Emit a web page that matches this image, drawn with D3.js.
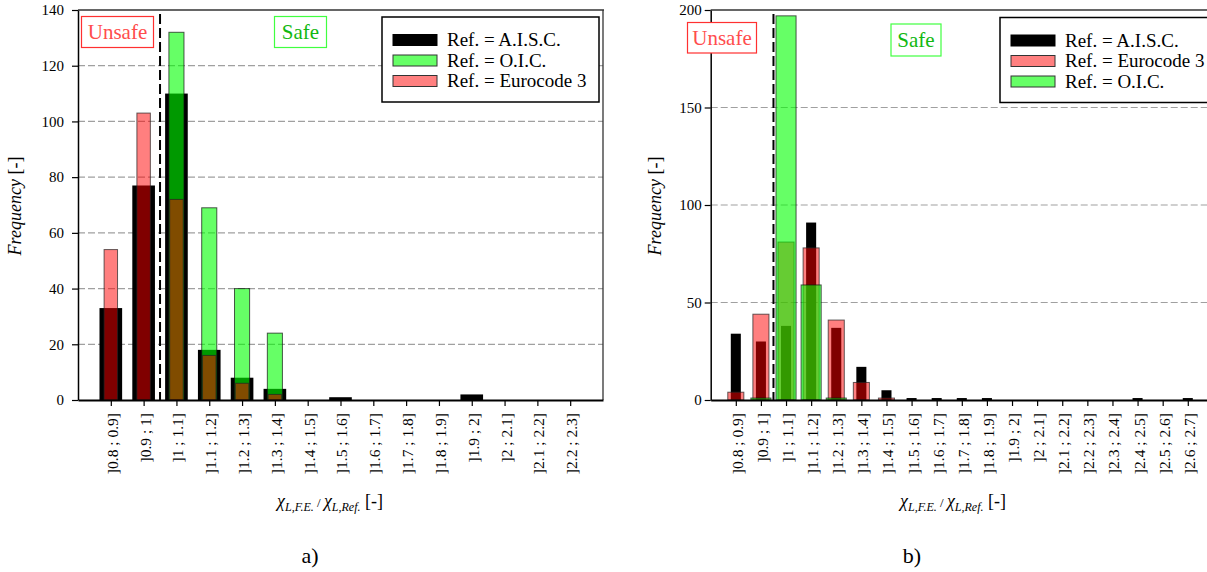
<!DOCTYPE html>
<html>
<head>
<meta charset="utf-8">
<script src="https://cdn.jsdelivr.net/npm/d3@7/dist/d3.min.js"></script>
<style>
  html, body { margin: 0; padding: 0; background: #fff; }
  svg { display: block; }
</style>
</head>
<body>
<script>
// ---- Panel a) : bins and frequencies ----
const binsA = ["]0.8 ; 0.9]", "]0.9 ; 1]", "]1 ; 1.1]", "]1.1 ; 1.2]", "]1.2 ; 1.3]",
  "]1.3 ; 1.4]", "]1.4 ; 1.5]", "]1.5 ; 1.6]", "]1.6 ; 1.7]", "]1.7 ; 1.8]",
  "]1.8 ; 1.9]", "]1.9 ; 2]", "]2 ; 2.1]", "]2.1 ; 2.2]", "]2.2 ; 2.3]"];
const aiscA = [33, 77, 110, 18, 8, 4, 0, 1, 0, 0, 0, 2, 0, 0, 0];
const oicA  = [0, 0, 132, 69, 40, 24, 0, 0, 0, 0, 0, 0, 0, 0, 0];
const ec3A  = [54, 103, 72, 16, 6, 2, 0, 0, 0, 0, 0, 0, 0, 0, 0];
const yTicksA = [0, 20, 40, 60, 80, 100, 120, 140];

// ---- Panel b) : bins and frequencies ----
const binsB = ["]0.8 ; 0.9]", "]0.9 ; 1]", "]1 ; 1.1]", "]1.1 ; 1.2]", "]1.2 ; 1.3]",
  "]1.3 ; 1.4]", "]1.4 ; 1.5]", "]1.5 ; 1.6]", "]1.6 ; 1.7]", "]1.7 ; 1.8]",
  "]1.8 ; 1.9]", "]1.9 ; 2]", "]2 ; 2.1]", "]2.1 ; 2.2]", "]2.2 ; 2.3]",
  "]2.3 ; 2.4]", "]2.4 ; 2.5]", "]2.5 ; 2.6]", "]2.6 ; 2.7]"];
const aiscB = [34, 30, 38, 91, 37, 17, 5, 1, 1, 1, 1, 0, 0, 0, 0, 0, 1, 0, 1];
const ec3B  = [4, 44, 81, 78, 41, 9, 1, 0, 0, 0, 0, 0, 0, 0, 0, 0, 0, 0, 0];
const oicB  = [0, 1, 197, 59, 1, 0, 0, 0, 0, 0, 0, 0, 0, 0, 0, 0, 0, 0, 0];
const yTicksB = [0, 50, 100, 150, 200];

const W = 1207, H = 572;
const FONT = "'Liberation Serif'";

const svg = d3.select("body").append("svg")
  .attr("width", W).attr("height", H)
  .attr("viewBox", `0 0 ${W} ${H}`);
svg.append("rect").attr("width", W).attr("height", H).attr("fill", "#fff");

// every text element gets the serif face inline
function txt(sel) {
  return sel.append("text").style("font-family", FONT).attr("fill", "#000");
}

// series styling
const STYLE = {
  aisc: { label: "Ref. = A.I.S.C.", fill: "#000", fillOpacity: 1, stroke: "none", swatch: "#000" },
  oic:  { label: "Ref. = O.I.C.", fill: "#00ff00", fillOpacity: 0.6, stroke: "#111", swatch: "#66ff66" },
  ec3:  { label: "Ref. = Eurocode 3", fill: "#ff0000", fillOpacity: 0.5, stroke: "#222", swatch: "#ff8080" }
};

function drawPanel(p) {
  const g = svg.append("g");
  const x = d3.scalePoint().domain(p.bins).range([p.left, p.right]).padding(1);
  const y = d3.scaleLinear().domain([0, p.yMax]).range([p.bottom, p.top]);
  const step = x.step();

  // horizontal dashed grid
  g.append("g").selectAll("line")
    .data(p.yTicks.filter(t => t > 0 && t < p.yMax))
    .join("line")
    .attr("x1", p.left).attr("x2", Math.min(p.right, W + 10))
    .attr("y1", d => y(d)).attr("y2", d => y(d))
    .attr("stroke", "#a0a0a0").attr("stroke-width", 1.2)
    .attr("stroke-dasharray", "7,3");

  // bars, drawn in legend order
  p.series.forEach(s => {
    const st = STYLE[s.key];
    const w = step * s.widthFrac;
    g.append("g").selectAll("rect")
      .data(s.values.map((v, i) => ({ v, bin: p.bins[i] })).filter(d => d.v > 0))
      .join("rect")
      .attr("x", d => x(d.bin) - w / 2)
      .attr("width", w)
      .attr("y", d => y(d.v))
      .attr("height", d => y(0) - y(d.v))
      .attr("fill", st.fill)
      .attr("fill-opacity", st.fillOpacity)
      .attr("stroke", st.stroke)
      .attr("stroke-opacity", 0.7)
      .attr("stroke-width", 1);
  });

  // plot frame (top and right)
  g.append("line").attr("x1", p.left).attr("x2", p.right + 1).attr("y1", p.top).attr("y2", p.top)
    .attr("stroke", "#333").attr("stroke-width", 1.3);
  g.append("line").attr("x1", p.right).attr("x2", p.right).attr("y1", p.top).attr("y2", p.bottom)
    .attr("stroke", "#333").attr("stroke-width", 1.3);

  // boundary between unsafe and safe bins
  const xb = (x(p.bins[1]) + x(p.bins[2])) / 2;
  g.append("line").attr("x1", xb).attr("x2", xb).attr("y1", p.top + 4).attr("y2", p.bottom)
    .attr("stroke", "#000").attr("stroke-width", 2).attr("stroke-dasharray", "10,4");

  // y axis
  const ya = d3.axisLeft(y).tickValues(p.yTicks).tickSize(6).tickPadding(p.yPad).tickSizeOuter(0);
  const yg = g.append("g").attr("transform", `translate(${p.left},0)`).call(ya);
  yg.attr("font-family", null);
  yg.select(".domain").attr("stroke", "#000").attr("stroke-width", 1.5);
  yg.selectAll(".tick line").attr("stroke", "#000").attr("stroke-width", 1.2);
  yg.selectAll(".tick text").style("font-family", FONT).attr("font-size", 15).attr("fill", "#000");

  // x axis
  const xa = d3.axisBottom(x).tickSize(6).tickSizeOuter(0).tickFormat("");
  const xg = g.append("g").attr("transform", `translate(0,${p.bottom})`).call(xa);
  xg.select(".domain").attr("stroke", "#000").attr("stroke-width", 2);
  xg.selectAll(".tick line").attr("stroke", "#000").attr("stroke-width", 1.2);
  g.append("g").selectAll("text").data(p.bins).join("text")
    .style("font-family", FONT)
    .attr("transform", d => `translate(${x(d)},${p.bottom + 13}) rotate(-90)`)
    .attr("text-anchor", "end")
    .attr("dy", "0.45em")
    .attr("font-size", 15.5)
    .text(d => d);

  // y title
  const yt = txt(g)
    .attr("transform", `translate(${p.yTitleX},${(p.top + p.bottom) / 2 + 1}) rotate(-90)`)
    .attr("text-anchor", "middle").attr("font-size", 18);
  yt.append("tspan").attr("font-style", "italic").text("Frequency");
  yt.append("tspan").text(" [-]");

  // x title
  const xt = txt(g).attr("x", p.xTitleX).attr("y", 507)
    .attr("text-anchor", "middle").attr("font-size", 18);
  xt.append("tspan").attr("font-style", "italic").text("\u03C7");
  xt.append("tspan").attr("font-style", "italic").attr("font-size", 12).attr("dy", 4).text("L,F.E.");
  xt.append("tspan").attr("font-size", 13).attr("dy", -4).text(" / ");
  xt.append("tspan").attr("font-style", "italic").text("\u03C7");
  xt.append("tspan").attr("font-style", "italic").attr("font-size", 12).attr("dy", 4).text("L,Ref.");
  xt.append("tspan").attr("dy", -4).text(" [-]");

  // panel letter
  txt(g).attr("x", p.letterX).attr("y", 563).attr("text-anchor", "middle")
    .attr("font-size", 22).text(p.letter);

  // Unsafe / Safe tags
  function tag(bx, by, bw, bh, label, stroke, color) {
    g.append("rect").attr("x", bx).attr("y", by).attr("width", bw).attr("height", bh)
      .attr("fill", "#fff").attr("stroke", stroke).attr("stroke-width", 1.2);
    txt(g).attr("x", bx + bw / 2).attr("y", by + bh / 2).attr("dy", "0.35em")
      .attr("text-anchor", "middle").attr("font-size", 21).attr("fill", color).text(label);
  }
  tag(p.unsafe[0], p.unsafe[1], p.unsafe[2], p.unsafe[3], "Unsafe", "#ff3030", "#ff4d4d");
  tag(p.safe[0], p.safe[1], p.safe[2], p.safe[3], "Safe", "#40ff40", "#12b812");

  // legend
  const lg = g.append("g");
  lg.append("rect").attr("x", p.legend[0]).attr("y", p.legend[1])
    .attr("width", p.legend[2]).attr("height", p.legend[3])
    .attr("fill", "#fff").attr("stroke", "#000").attr("stroke-width", 1.5);
  p.series.forEach((s, i) => {
    const st = STYLE[s.key];
    const cy = p.legend[1] + 23 + i * 20.5;
    lg.append("rect").attr("x", p.legend[0] + 11).attr("y", cy - 5.5)
      .attr("width", 44).attr("height", 11)
      .attr("fill", st.swatch)
      .attr("stroke", s.key === "aisc" ? "#000" : "#333").attr("stroke-width", 1);
    txt(lg).attr("x", p.legend[0] + 65).attr("y", cy).attr("dy", "0.33em")
      .attr("font-size", 19).text(st.label);
  });
}

drawPanel({
  bins: binsA, yMax: 140, yTicks: yTicksA,
  left: 78, right: 603, top: 10, bottom: 400, yPad: 8,
  series: [
    { key: "aisc", values: aiscA, widthFrac: 0.69 },
    { key: "oic", values: oicA, widthFrac: 0.46 },
    { key: "ec3", values: ec3A, widthFrac: 0.41 }
  ],
  yTitleX: 21, xTitleX: 330, letter: "a)", letterX: 310,
  unsafe: [81.5, 16.5, 72, 31], safe: [274.5, 16.5, 52, 31],
  legend: [382, 17, 217, 85]
});

drawPanel({
  bins: binsB, yMax: 200, yTicks: yTicksB,
  left: 710.7, right: 1212.9, top: 10, bottom: 400, yPad: 3,
  series: [
    { key: "aisc", values: aiscB, widthFrac: 0.4 },
    { key: "ec3", values: ec3B, widthFrac: 0.64 },
    { key: "oic", values: oicB, widthFrac: 0.8 }
  ],
  yTitleX: 661, xTitleX: 953, letter: "b)", letterX: 912,
  unsafe: [687.5, 22.5, 69, 30.5], safe: [891, 24, 50, 32],
  legend: [1000, 17.5, 230, 85]
});
</script>
</body>
</html>
